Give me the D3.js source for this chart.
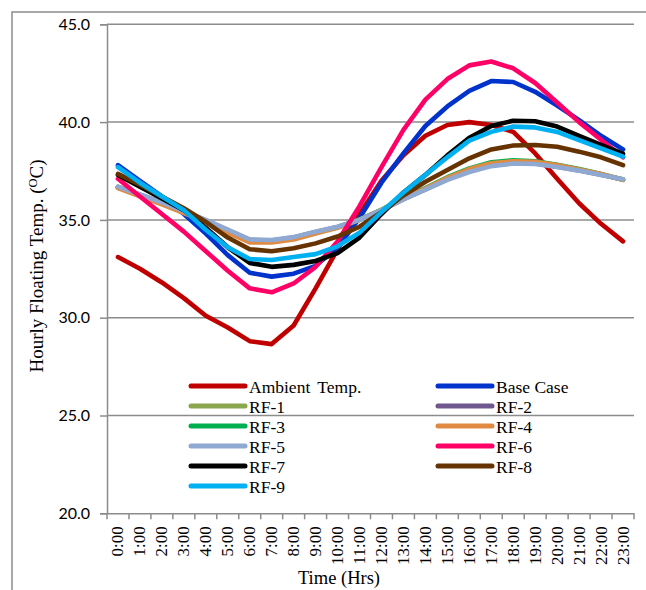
<!DOCTYPE html>
<html>
<head>
<meta charset="utf-8">
<script src="https://cdn.jsdelivr.net/npm/d3@7"></script>
<style>
  body { margin: 0; background: #fff; }
  svg { display: block; }
</style>
</head>
<body>
<svg width="646" height="590"></svg>
<script>
// hours on the x axis
var hours = ["0:00","1:00","2:00","3:00","4:00","5:00","6:00","7:00","8:00","9:00","10:00","11:00",
  "12:00","13:00","14:00","15:00","16:00","17:00","18:00","19:00","20:00","21:00","22:00","23:00"];

var yTicks = [20, 25, 30, 35, 40, 45];

// values (deg C)
var ambient = [33.1, 32.5, 31.8, 31.0, 30.1, 29.5, 28.8, 28.65, 29.6, 31.5, 33.5, 35.3, 37.0, 38.3, 39.3, 39.85, 40.0, 39.85, 39.5, 38.4, 37.1, 35.85, 34.8, 33.9];
var baseCase = [37.8, 37.0, 36.2, 35.3, 34.3, 33.2, 32.3, 32.1, 32.25, 32.65, 33.6, 35.1, 36.9, 38.4, 39.8, 40.8, 41.6, 42.1, 42.05, 41.55, 40.85, 40.1, 39.3, 38.6];
var rf1 = [36.68, 36.28, 35.88, 35.43, 34.97, 34.45, 33.95, 33.93, 34.08, 34.37, 34.63, 35.0, 35.5, 36.08, 36.58, 37.1, 37.52, 37.82, 37.95, 37.92, 37.75, 37.55, 37.32, 37.06];
var rf2 = [36.69, 36.29, 35.89, 35.44, 34.98, 34.47, 33.97, 33.95, 34.1, 34.38, 34.64, 35.0, 35.5, 36.06, 36.56, 37.07, 37.48, 37.78, 37.9, 37.88, 37.72, 37.53, 37.31, 37.07];
var rf3 = [36.65, 36.25, 35.85, 35.4, 34.95, 34.4, 33.9, 33.9, 34.05, 34.35, 34.62, 35.02, 35.52, 36.12, 36.63, 37.18, 37.63, 37.95, 38.05, 38.0, 37.82, 37.6, 37.35, 37.05];
var rf4 = [36.62, 36.2, 35.8, 35.35, 34.9, 34.35, 33.85, 33.85, 34.0, 34.3, 34.6, 35.0, 35.5, 36.1, 36.6, 37.15, 37.6, 37.9, 38.0, 37.97, 37.8, 37.58, 37.35, 37.05];
var rf5 = [36.7, 36.3, 35.9, 35.45, 35.0, 34.5, 34.0, 33.97, 34.12, 34.4, 34.65, 35.0, 35.5, 36.05, 36.55, 37.05, 37.45, 37.75, 37.88, 37.86, 37.7, 37.52, 37.3, 37.08];
var rf6 = [37.1, 36.2, 35.3, 34.4, 33.4, 32.4, 31.5, 31.3, 31.75, 32.6, 33.9, 35.7, 37.7, 39.6, 41.15, 42.2, 42.9, 43.1, 42.75, 42.0, 41.0, 40.0, 39.1, 38.2];
var rf7 = [37.3, 36.7, 36.1, 35.5, 34.6, 33.6, 32.8, 32.6, 32.7, 32.9, 33.3, 34.1, 35.3, 36.4, 37.3, 38.3, 39.2, 39.8, 40.07, 40.04, 39.77, 39.3, 38.83, 38.37];
var rf8 = [37.35, 36.8, 36.2, 35.6, 34.9, 34.1, 33.5, 33.4, 33.55, 33.8, 34.15, 34.65, 35.4, 36.25, 36.95, 37.55, 38.15, 38.6, 38.8, 38.83, 38.74, 38.49, 38.2, 37.8];
var rf9 = [37.7, 36.9, 36.2, 35.5, 34.5, 33.6, 33.0, 32.95, 33.1, 33.25, 33.65, 34.35, 35.4, 36.4, 37.3, 38.2, 39.05, 39.5, 39.77, 39.73, 39.5, 39.08, 38.66, 38.23];

var names = ["Ambient Temp.", "Base Case", "RF-1", "RF-2", "RF-3", "RF-4", "RF-5", "RF-6", "RF-7", "RF-8", "RF-9"];
var colors = ["#C00000", "#0033CC", "#8AA64E", "#70588F", "#00B050", "#E18B42", "#8FA9D3", "#FF0066", "#000000", "#663300", "#00B0F0"];
var values = [ambient, baseCase, rf1, rf2, rf3, rf4, rf5, rf6, rf7, rf8, rf9];

var series = names.map(function(n, i) { return {name: n, color: colors[i], values: values[i]}; });

var svg = d3.select("svg");
var grey = "#8c8c8c";
var serif = "'Liberation Serif', 'Times New Roman', serif";

// outer chart frame (runs off the right and bottom of the picture)
svg.append("rect")
  .attr("x", 12).attr("y", 12)
  .attr("width", 700).attr("height", 700)
  .style("fill", "none").style("stroke", grey).style("stroke-width", 1.5);

var x = d3.scaleBand().domain(hours).range([107, 634]);
var y = d3.scaleLinear().domain([20, 45]).range([513.3, 24.3]);

// gridlines
svg.append("g").selectAll("line")
  .data(yTicks.slice(1)).enter()
  .append("line")
  .attr("x1", 107).attr("x2", 634)
  .attr("y1", function(d) { return y(d); })
  .attr("y2", function(d) { return y(d); })
  .style("stroke", grey).style("stroke-width", 1.5);

// y axis
var yAxis = svg.append("g")
  .attr("transform", "translate(107,0)")
  .call(d3.axisLeft(y).tickValues(yTicks).tickFormat(d3.format(".1f")).tickSize(7).tickPadding(10));
yAxis.select(".domain").style("stroke", grey).style("stroke-width", 1.5);
yAxis.selectAll(".tick line").style("stroke", grey).style("stroke-width", 1.5);
yAxis.selectAll(".tick text")
  .style("font-family", "Lato, 'Open Sans', sans-serif")
  .style("font-size", "16px").style("fill", "#000");

// x axis: ticks between the categories
var xAxis = svg.append("g")
  .attr("transform", "translate(0,513.3)")
  .call(d3.axisBottom(x).tickSize(0).tickFormat(""));
xAxis.select(".domain").style("stroke", grey).style("stroke-width", 1.5);

var bounds = d3.range(hours.length + 1).map(function(i) { return 107 + i * x.step(); });
xAxis.selectAll(".bound")
  .data(bounds).enter()
  .append("line")
  .attr("x1", function(d) { return d; }).attr("x2", function(d) { return d; })
  .attr("y1", 0).attr("y2", 6)
  .style("stroke", grey).style("stroke-width", 1.5);

xAxis.selectAll(".lbl")
  .data(hours).enter()
  .append("text")
  .attr("transform", function(d) {
    return "translate(" + (x(d) + x.bandwidth() / 2 + 5.5) + ",13) rotate(-90)";
  })
  .attr("text-anchor", "end")
  .style("font-family", serif).style("font-size", "17px").style("fill", "#000")
  .text(function(d) { return d; });

// data lines
var line = d3.line()
  .x(function(d, i) { return x(hours[i]) + x.bandwidth() / 2; })
  .y(function(d) { return y(d); });

svg.append("g").selectAll("path")
  .data(series).enter()
  .append("path")
  .attr("d", function(d) { return line(d.values); })
  .style("fill", "none")
  .style("stroke", function(d) { return d.color; })
  .style("stroke-width", 4.6)
  .style("stroke-linejoin", "round")
  .style("stroke-linecap", "round");

// legend, two columns
var legend = svg.append("g").selectAll("g")
  .data(series).enter()
  .append("g")
  .attr("transform", function(d, i) {
    var col = i % 2, row = Math.floor(i / 2);
    return "translate(" + (191 + col * 247) + "," + (386 + row * 20) + ")";
  });
legend.append("line")
  .attr("x1", 0).attr("x2", 54)
  .style("stroke", function(d) { return d.color; })
  .style("stroke-width", 5)
  .style("stroke-linecap", "round");
legend.append("text")
  .attr("x", 58).attr("y", 6.5)
  .style("font-family", serif).style("font-size", "17.5px").style("fill", "#000")
  .style("word-spacing", function(d) { return d.name == "Ambient Temp." ? "3px" : null; })
  .text(function(d) { return d.name; });

// axis titles
var yTitle = svg.append("text")
  .attr("transform", "translate(43,266) rotate(-90)")
  .attr("text-anchor", "middle")
  .style("font-family", serif).style("font-size", "19px").style("fill", "#000");
yTitle.append("tspan").text("Hourly Floating Temp. (");
yTitle.append("tspan").attr("dy", -6).style("font-size", "12.5px").text("O");
yTitle.append("tspan").attr("dy", 6).text("C)");

svg.append("text")
  .attr("x", 339).attr("y", 584)
  .attr("text-anchor", "middle")
  .style("font-family", serif).style("font-size", "18.5px").style("fill", "#000")
  .text("Time (Hrs)");
</script>
</body>
</html>
